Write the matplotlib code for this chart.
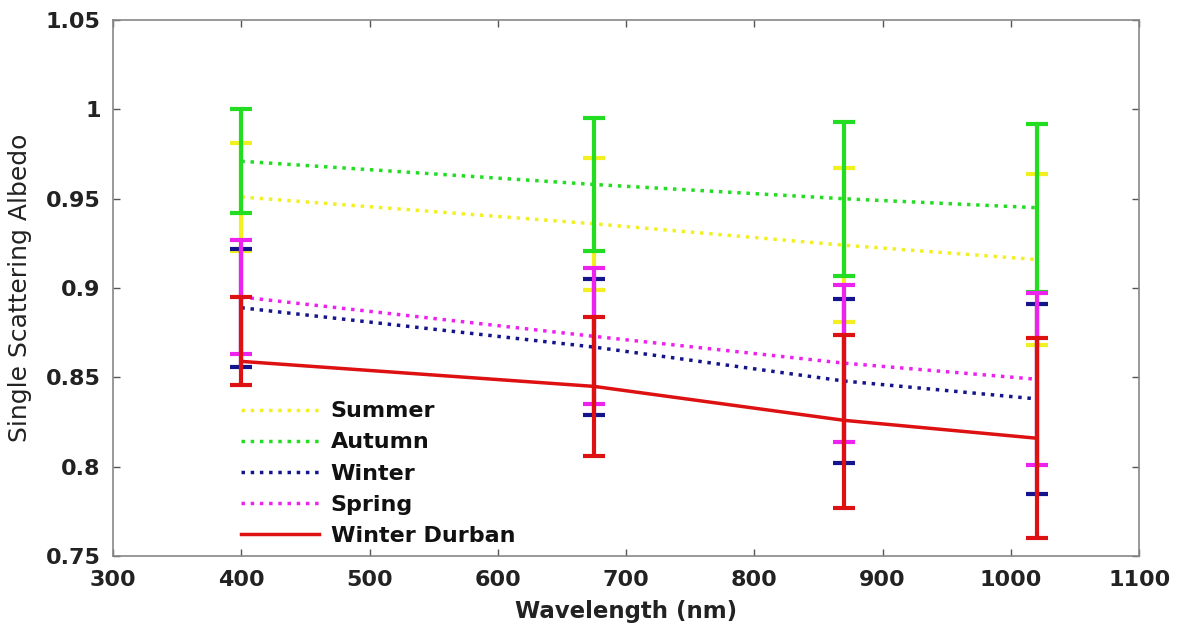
import matplotlib
matplotlib.use("Agg")
import matplotlib.pyplot as plt
import numpy as np

wavelength = [400, 675, 870, 1020]
series_names = ["Summer", "Autumn", "Winter", "Spring", "Winter Durban"]
summer = [0.951, 0.936, 0.924, 0.916]
summer_err = [0.030, 0.037, 0.043, 0.048]
autumn = [0.971, 0.958, 0.950, 0.945]
autumn_err = [0.029, 0.037, 0.043, 0.047]
winter = [0.889, 0.867, 0.848, 0.838]
winter_err = [0.033, 0.038, 0.046, 0.053]
spring = [0.895, 0.873, 0.858, 0.849]
spring_err = [0.032, 0.038, 0.044, 0.048]
durban = [0.859, 0.845, 0.826, 0.816]
durban_err_low = [0.013, 0.039, 0.049, 0.056]
durban_err_high = [0.036, 0.039, 0.048, 0.056]

plt.rcParams['font.family'] = ['DejaVu Sans']

fig = plt.figure(figsize=(11.78, 6.27), dpi=100)
ax = fig.add_axes([0.096, 0.113, 0.871, 0.855])

colors = {"Summer": "#f2f020", "Autumn": "#22dd22", "Winter": "#14148c",
          "Spring": "#ee22ee", "Winter Durban": "#dd1111"}

data = [("Summer", summer, [summer_err, summer_err], ":"),
        ("Autumn", autumn, [autumn_err, autumn_err], ":"),
        ("Winter", winter, [winter_err, winter_err], ":"),
        ("Spring", spring, [spring_err, spring_err], ":"),
        ("Winter Durban", durban, [durban_err_low, durban_err_high], "-")]

handles = []
for i, (name, vals, err, ls) in enumerate(data):
    c = colors[name]
    ax.errorbar(wavelength, vals, yerr=np.array(err), fmt='none', ecolor=c,
                elinewidth=3, capsize=8, capthick=3, zorder=2 + i)
    h, = ax.plot(wavelength, vals, ls, color=c, lw=2.5,
                 zorder=2 + i, label=name)
    handles.append(h)

ax.set_xlim(300, 1100)
ax.set_ylim(0.75, 1.05)
ax.set_xticks(np.arange(300, 1101, 100))
ax.set_yticks([0.75, 0.8, 0.85, 0.9, 0.95, 1.0, 1.05])
ax.set_yticklabels(["0.75", "0.8", "0.85", "0.9", "0.95", "1", "1.05"])
ax.tick_params(direction='in', length=5, width=1, color='#555555',
               labelsize=16, top=True, right=True)
ax.tick_params(axis='x', pad=10)
ax.tick_params(axis='y', pad=9)
for lab in ax.get_xticklabels() + ax.get_yticklabels():
    lab.set_fontweight('bold')
    lab.set_color('#222222')
for sp in ax.spines.values():
    sp.set_color('#888888')
    sp.set_linewidth(1.2)

ax.set_xlabel("Wavelength (nm)", fontsize=16.5, fontweight='bold', color='#222222', labelpad=7)
ax.set_ylabel("Single Scattering Albedo", fontsize=18, color='#222222', labelpad=10)

leg = ax.legend(handles=handles, loc='lower left', bbox_to_anchor=(0.105, -0.018),
                frameon=False, fontsize=16, handlelength=3.5, handletextpad=0.55,
                labelspacing=0.5)
for t in leg.get_texts():
    t.set_fontweight('bold')
    t.set_color('#111111')

fig.savefig("out.png", dpi=100)
